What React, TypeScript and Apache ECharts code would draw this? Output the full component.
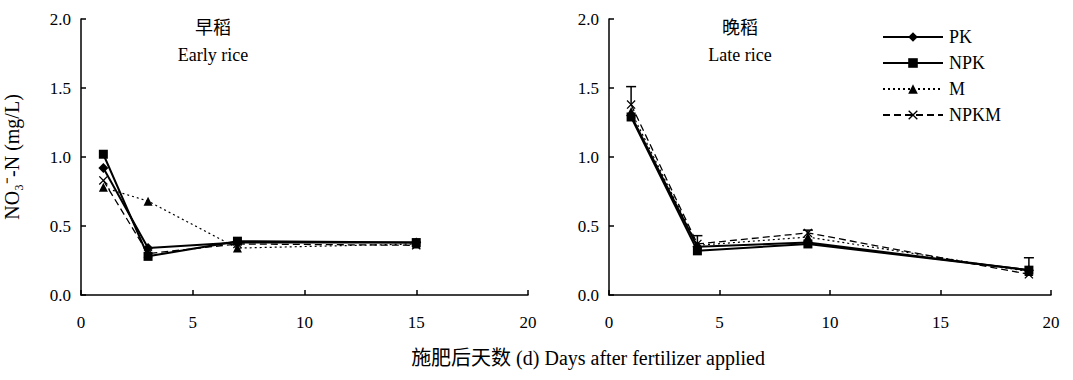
import React, { useEffect, useRef } from "react";
import * as echarts from "echarts";

// Early rice (days after fertilizer applied)
const earlyDays = [1, 3, 7, 15];
const earlyPK = [0.92, 0.34, 0.38, 0.38];
const earlyNPK = [1.02, 0.28, 0.39, 0.38];
const earlyM = [0.78, 0.68, 0.34, 0.37];
const earlyNPKM = [0.83, 0.30, 0.37, 0.36];

// Late rice
const lateDays = [1, 4, 9, 19];
const latePK = [1.30, 0.35, 0.38, 0.18];
const lateNPK = [1.29, 0.32, 0.37, 0.18];
const lateM = [1.33, 0.36, 0.42, 0.17];
const lateNPKM = [1.38, 0.37, 0.45, 0.15];
const lateNPKMUpper = [1.51, 0.43, 0.47, 0.27];

const seriesNames = ["PK", "NPK", "M", "NPKM"];
const xTicks = [0, 5, 10, 15, 20];
const yTicks = [0, 0.5, 1.0, 1.5, 2.0];

const FONT = "'Liberation Serif', 'Noto Sans CJK SC', serif";
const CROSS = "path://M0,1 L1,0 L5,4 L9,0 L10,1 L6,5 L10,9 L9,10 L5,6 L1,10 L0,9 L4,5 Z";

const styles: any = {
  PK: { symbol: "diamond", symbolSize: 10, lineStyle: { type: "solid", width: 2 } },
  NPK: { symbol: "rect", symbolSize: 9, lineStyle: { type: "solid", width: 2 } },
  M: { symbol: "triangle", symbolSize: 9, lineStyle: { type: [2, 3], width: 1.2 } },
  NPKM: { symbol: CROSS, symbolSize: 9, lineStyle: { type: [7, 4], width: 1.3 } },
};

function pairs(xs: number[], ys: number[]) {
  return xs.map((x, i) => [x, ys[i]]);
}

export default function App() {
  const ref = useRef<HTMLDivElement>(null);
  useEffect(() => {
    if (!ref.current) return;
    const chart = echarts.init(ref.current, undefined, { renderer: "svg" });

    const axisCommon = {
      axisLine: { show: true, lineStyle: { color: "#000", width: 1.5 } },
      axisTick: { show: true, inside: true, length: 5, lineStyle: { color: "#000", width: 1.5 } },
      splitLine: { show: false },
    };
    const xAxis = (gi: number) => ({
      type: "value",
      gridIndex: gi,
      min: xTicks[0],
      max: xTicks[xTicks.length - 1],
      interval: 5,
      ...axisCommon,
      axisLabel: { color: "#000", fontFamily: FONT, fontSize: 17, margin: 19 },
    });
    const yAxis = (gi: number, name: string) => ({
      type: "value",
      gridIndex: gi,
      min: yTicks[0],
      max: yTicks[yTicks.length - 1],
      interval: 0.5,
      ...axisCommon,
      name,
      nameLocation: "middle",
      nameRotate: 90,
      nameGap: 59,
      nameTextStyle: { color: "#000", fontFamily: FONT, fontSize: 20 },
      axisLabel: {
        color: "#000",
        fontFamily: FONT,
        fontSize: 17,
        margin: 10,
        formatter: (v: number) => v.toFixed(1),
      },
    });

    const mk = (name: string, gi: number, xs: number[], ys: number[]) => ({
      name,
      type: "line",
      xAxisIndex: gi,
      yAxisIndex: gi,
      data: pairs(xs, ys),
      symbol: styles[name].symbol,
      symbolSize: styles[name].symbolSize,
      itemStyle: { color: "#000" },
      lineStyle: { color: "#000", ...styles[name].lineStyle },
      z: 3,
    });

    const errData = lateDays.map((x, i) => [x, lateNPKM[i], lateNPKMUpper[i]]);
    const txt = (text: string, x: number, y: number, size: number) => ({
      type: "text",
      x,
      y,
      style: { text, font: `${size}px ${FONT}`, fill: "#000", textAlign: "center", textVerticalAlign: "middle" },
    });

    chart.setOption({
      animation: false,
      backgroundColor: "#fff",
      grid: [
        { left: 81, width: 447, top: 19, bottom: 85 },
        { left: 609, width: 442, top: 19, bottom: 85 },
      ],
      xAxis: [xAxis(0), xAxis(1)],
      yAxis: [yAxis(0, "NO\u2083\u207B-N (mg/L)"), yAxis(1, "")],
      legend: {
        data: seriesNames,
        orient: "vertical",
        left: 877,
        top: 23,
        itemWidth: 60,
        itemHeight: 12,
        itemGap: 8,
        textStyle: { color: "#000", fontFamily: FONT, fontSize: 18, padding: [0, 0, 0, 1] },
      },
      graphic: [
        txt("早稻", 213, 28, 18),
        txt("Early rice", 213, 55, 18),
        txt("晚稻", 740, 28, 18),
        txt("Late rice", 740, 55, 18),
        txt("施肥后天数 (d) Days after fertilizer applied", 588, 358, 20),
      ],
      series: [
        mk("PK", 0, earlyDays, earlyPK),
        mk("NPK", 0, earlyDays, earlyNPK),
        mk("M", 0, earlyDays, earlyM),
        mk("NPKM", 0, earlyDays, earlyNPKM),
        mk("PK", 1, lateDays, latePK),
        mk("NPK", 1, lateDays, lateNPK),
        mk("M", 1, lateDays, lateM),
        mk("NPKM", 1, lateDays, lateNPKM),
        {
          type: "custom",
          xAxisIndex: 1,
          yAxisIndex: 1,
          data: errData,
          silent: true,
          z: 2,
          renderItem: (params: any, api: any) => {
            const x = api.value(0);
            const low = api.coord([x, api.value(1)]);
            const high = api.coord([x, api.value(2)]);
            const st = { stroke: "#000", lineWidth: 1.5 };
            return {
              type: "group",
              children: [
                { type: "line", shape: { x1: low[0], y1: low[1], x2: high[0], y2: high[1] }, style: st },
                { type: "line", shape: { x1: high[0] - 5, y1: high[1], x2: high[0] + 5, y2: high[1] }, style: st },
              ],
            };
          },
        },
      ],
    } as any);
    return () => chart.dispose();
  }, []);
  return (
    <div
      ref={ref}
      style={{ position: "fixed", left: 0, top: 0, width: 1073, height: 380, background: "#fff" }}
    />
  );
}
